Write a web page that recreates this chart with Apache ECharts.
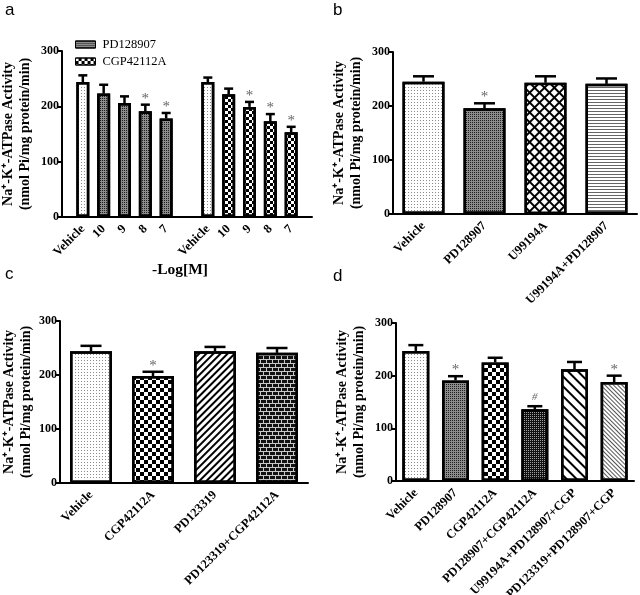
<!DOCTYPE html>
<html>
<head>
<meta charset="utf-8">
<script src="https://cdn.jsdelivr.net/npm/echarts@6/dist/echarts.min.js"></script>
<style>html,body{margin:0;padding:0;background:#fff}#c{width:640px;height:595px}</style>
</head>
<body>
<div id="c"></div>
<script>
// ---------- DATA ----------
const yTicks = [0, 100, 200, 300];
// Panel a
const aCategories = ['', 'Vehicle', '10', '9', '8', '7', '', 'Vehicle', '10', '9', '8', '7', ''];
const aPD = [244, 223, 206, 191, 178];
const aPDErr = [12, 16, 12, 12, 10];
const aPDSig = ['', '', '', '*', '*'];
const aCGP = [244, 222, 199, 173, 153];
const aCGPErr = [8, 10, 9, 13, 10];
const aCGPSig = ['', '', '*', '*', '*'];
// Panel b
const bCategories = ['Vehicle', 'PD128907', 'U99194A', 'U99194A+PD128907'];
const bValues = [245, 196, 243, 241];
const bErr = [10, 9, 12, 10];
const bSig = ['', '*', '', ''];
// Panel c
const cCategories = ['Vehicle', 'CGP42112A', 'PD123319', 'PD123319+CGP42112A'];
const cValues = [244, 198, 244, 241];
const cErr = [10, 8, 8, 9];
const cSig = ['', '*', '', ''];
// Panel d
const dCategories = ['Vehicle', 'PD128907', 'CGP42112A', 'PD128907+CGP42112A', 'U99194A+PD128907+CGP', 'PD123319+PD128907+CGP'];
const dValues = [247, 191, 225, 136, 212, 188];
const dErr = [11, 8, 9, 6, 14, 12];
const dSig = ['', '*', '', '#', '', '*'];

// ---------- STYLES ----------
const serif = '"Liberation Serif", "Times New Roman", serif';
const sans = '"Liberation Sans", Arial, sans-serif';
const P = {
  dots:   {color: '#fff', decal: {symbol: 'rect', symbolSize: 1, color: '#8a8a8a', dashArrayX: [1, 2], dashArrayY: [1, 2]}},
  fine:   {color: '#8c8c8c', decal: {symbol: 'rect', symbolSize: 1, color: '#1e1e1e', dashArrayX: [1, 1], dashArrayY: [1, 1]}},
  check3: {color: '#fff', decal: {symbol: 'rect', symbolSize: 1, color: '#000', dashArrayX: [[3, 3], [0, 3, 3, 0]], dashArrayY: [3, 0]}},
  check4: {color: '#fff', decal: {symbol: 'rect', symbolSize: 1, color: '#000', dashArrayX: [[4, 4], [0, 4, 4, 0]], dashArrayY: [4, 0]}},
  cross:  {color: '#000', decal: {symbol: 'rect', symbolSize: 1, color: '#fff', dashArrayX: [5, 2], dashArrayY: [5, 2], rotation: Math.PI / 4}},
  hstripe:{color: '#fff', decal: {symbol: 'rect', symbolSize: 1, color: '#666', dashArrayX: [1, 0], dashArrayY: [1, 2]}},
  slash:  {color: '#fff', decal: {symbol: 'rect', symbolSize: 1, color: '#000', dashArrayX: [1, 0], dashArrayY: [2, 3], rotation: -Math.PI / 4}},
  brick:  {color: '#c8c8c8', decal: {symbol: 'rect', symbolSize: 1, color: '#111', dashArrayX: [[5, 1], [2, 1, 3, 0]], dashArrayY: [3, 1]}},
  dark:   {color: '#111', decal: {symbol: 'rect', symbolSize: 1, color: '#a0a0a0', dashArrayX: [1, 1], dashArrayY: [1, 1]}},
  bslash: {color: '#fff', decal: {symbol: 'rect', symbolSize: 1, color: '#000', dashArrayX: [1, 0], dashArrayY: [2, 5], rotation: Math.PI / 4}},
  bfine:  {color: '#fff', decal: {symbol: 'rect', symbolSize: 1, color: '#555', dashArrayX: [1, 0], dashArrayY: [1, 1.5], rotation: Math.PI / 4}}
};

function yAxisCfg(gi, gap) {
  return {
    type: 'value', gridIndex: gi, min: 0, max: 300, interval: 100,
    name: 'Na\u207A-K\u207A-ATPase Activity\n(nmol Pi/mg protein/min)',
    nameLocation: 'middle', nameRotate: 90, nameGap: gap,
    nameTextStyle: {fontFamily: serif, fontWeight: 'bold', fontSize: 14, color: '#000', lineHeight: 17},
    axisLine: {show: true, lineStyle: {color: '#000', width: 2}},
    axisTick: {show: true, length: 4, lineStyle: {color: '#000', width: 2}},
    axisLabel: {fontFamily: serif, fontWeight: 'bold', fontSize: 12, color: '#000', margin: 3,
      customValues: yTicks},
    splitLine: {show: false}
  };
}
function xAxisCfg(gi, cats, bg) {
  return {
    type: 'category', gridIndex: gi, data: cats, boundaryGap: bg,
    axisLine: {show: true, onZero: false, lineStyle: {color: '#000', width: 2}},
    axisTick: {show: false},
    axisLabel: {interval: 0, rotate: 45, fontFamily: serif, fontWeight: 'bold', fontSize: 12.5, color: '#000', margin: 10},
    splitLine: {show: false}
  };
}
function errSeries(gi, pts, sigs, capW) {
  return {
    type: 'custom', xAxisIndex: gi, yAxisIndex: gi, z: 5, silent: true,
    data: pts,
    encode: {x: 0, y: 1},
    renderItem: function (params, api) {
      const x = api.value(0), v = api.value(1), e = api.value(2);
      const p0 = api.coord([x, v]);
      const p1 = api.coord([x, v + e]);
      const st = {stroke: '#000', lineWidth: 2.5};
      const ch = [
        {type: 'line', shape: {x1: p0[0], y1: p0[1], x2: p1[0], y2: p1[1]}, style: st},
        {type: 'line', shape: {x1: p1[0] - capW / 2, y1: p1[1], x2: p1[0] + capW / 2, y2: p1[1]}, style: st}
      ];
      const s = sigs[params.dataIndex];
      if (s) {
        ch.push({type: 'text', style: {text: s, x: p1[0], y: p1[1] - (s === '#' ? 9 : 6), align: 'center', verticalAlign: 'middle',
          fontFamily: serif, fontSize: s === '#' ? 11 : 15, fontStyle: s === '#' ? 'italic' : 'normal', fill: '#666'}});
      }
      return {type: 'group', children: ch};
    }
  };
}
function barItem(v, pat) {
  return {value: v, itemStyle: {color: pat.color, decal: pat.decal}};
}
const border = {borderColor: '#000', borderWidth: 2.5};

// Panel a series data
const aPDData = aCategories.map((c, i) => (i >= 1 && i <= 5) ? barItem(aPD[i - 1], i === 1 ? P.dots : P.fine) : '-');
const aCGPData = aCategories.map((c, i) => (i >= 7 && i <= 11) ? barItem(aCGP[i - 7], i === 7 ? P.dots : P.check3) : '-');
const aErrPts = aPD.map((v, i) => [i + 1, v, aPDErr[i]]).concat(aCGP.map((v, i) => [i + 7, v, aCGPErr[i]]));
const aSigs = aPDSig.concat(aCGPSig);

const bPats = [P.dots, P.fine, P.cross, P.hstripe];
const cPats = [P.dots, P.check4, P.slash, P.brick];
const dPats = [P.dots, P.fine, P.check4, P.dark, P.bslash, P.bfine];

const option = {
  animation: false,
  backgroundColor: '#fff',
  grid: [
    {left: 62, top: 51, width: 250, height: 166, outerBoundsMode: 'none', containLabel: false},
    {left: 393, top: 52, width: 244, height: 162, outerBoundsMode: 'none', containLabel: false},
    {left: 60, top: 321, width: 248, height: 162, outerBoundsMode: 'none', containLabel: false},
    {left: 396, top: 323, width: 238, height: 158, outerBoundsMode: 'none', containLabel: false}
  ],
  legend: {
    data: ['PD128907', 'CGP42112A'], orient: 'vertical', left: 70, top: 33,
    itemWidth: 20, itemHeight: 7, itemGap: 4, icon: 'rect',
    textStyle: {fontFamily: serif, fontSize: 12.5, color: '#000', padding: [0, 0, 0, 2]},
    itemStyle: {borderColor: '#000', borderWidth: 1}
  },
  xAxis: [
    Object.assign(xAxisCfg(0, aCategories, false), {
      name: '-Log[M]', nameLocation: 'middle', nameGap: 45,
      nameTextStyle: {fontFamily: serif, fontWeight: 'bold', fontSize: 15.5, color: '#000', padding: [0, 14, 0, 0]}
    }),
    xAxisCfg(1, bCategories, true),
    xAxisCfg(2, cCategories, true),
    xAxisCfg(3, dCategories, true)
  ],
  yAxis: [yAxisCfg(0, 28), yAxisCfg(1, 28), yAxisCfg(2, 23), yAxisCfg(3, 28)],
  series: [
    {type: 'bar', name: 'PD128907', xAxisIndex: 0, yAxisIndex: 0, barWidth: 13, barGap: '-100%',
      itemStyle: Object.assign({color: P.fine.color, decal: P.fine.decal}, border), data: aPDData},
    {type: 'bar', name: 'CGP42112A', xAxisIndex: 0, yAxisIndex: 0, barWidth: 13, barGap: '-100%',
      itemStyle: Object.assign({color: P.check3.color, decal: P.check3.decal}, border), data: aCGPData},
    errSeries(0, aErrPts, aSigs, 9),
    {type: 'bar', xAxisIndex: 1, yAxisIndex: 1, barWidth: 42, itemStyle: border,
      data: bValues.map((v, i) => barItem(v, bPats[i]))},
    errSeries(1, bValues.map((v, i) => [i, v, bErr[i]]), bSig, 21),
    {type: 'bar', xAxisIndex: 2, yAxisIndex: 2, barWidth: 42, itemStyle: border,
      data: cValues.map((v, i) => barItem(v, cPats[i]))},
    errSeries(2, cValues.map((v, i) => [i, v, cErr[i]]), cSig, 21),
    {type: 'bar', xAxisIndex: 3, yAxisIndex: 3, barWidth: 27, itemStyle: border,
      data: dValues.map((v, i) => barItem(v, dPats[i]))},
    errSeries(3, dValues.map((v, i) => [i, v, dErr[i]]), dSig, 15)
  ],
  graphic: [
    {type: 'text', left: 5, top: 2, style: {text: 'a', fontFamily: sans, fontSize: 17, fill: '#000'}},
    {type: 'text', left: 333, top: 2, style: {text: 'b', fontFamily: sans, fontSize: 17, fill: '#000'}},
    {type: 'text', left: 5, top: 266, style: {text: 'c', fontFamily: sans, fontSize: 17, fill: '#000'}},
    {type: 'text', left: 333, top: 268, style: {text: 'd', fontFamily: sans, fontSize: 17, fill: '#000'}}
  ]
};
const chart = echarts.init(document.getElementById('c'), null, {renderer: 'canvas'});
chart.setOption(option);
</script>
</body>
</html>
